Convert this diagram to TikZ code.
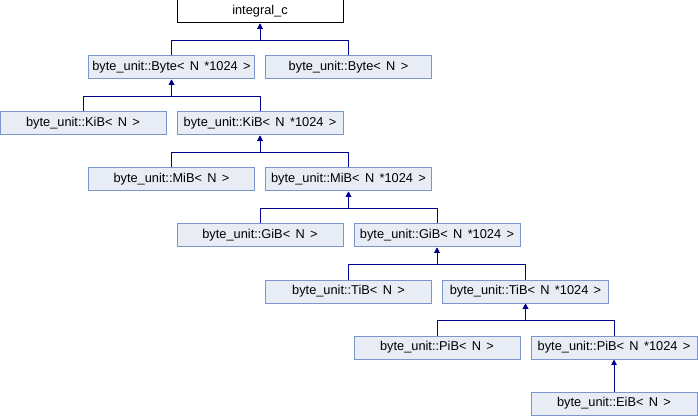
\documentclass[tikz,border=0pt]{standalone}
\usepackage{fontspec}
\setmainfont[WordSpace=1.5]{Liberation Sans}
\usetikzlibrary{arrows.meta}
\begin{document}
\begin{tikzpicture}[x=0.75pt,y=0.75pt,yscale=-1,xscale=1,
  cls/.style={draw={rgb,255:red,122;green,150;blue,204},fill={rgb,255:red,232;green,236;blue,245},line width=0.75pt,minimum width=124.5pt,minimum height=17.25pt,inner sep=0pt,font=\fontsize{9.6}{11}\selectfont},
  top/.style={cls,draw=black,fill=white},
  inh/.style={{Triangle[length=4pt,width=4pt]}-,draw={rgb,255:red,0;green,0;blue,140},line width=0.75pt}]
\useasboundingbox (0,0) rectangle (698,416);

%Shape: Rectangle [id:base]
\node [top] (integral) at (260,11.5) {integral\_c};
% Text Node
\node [cls] (byteK) at (171.5,67.5) {byte\_unit::Byte< N *1024 >};
\node [cls] (byteN) at (348.5,67.5) {byte\_unit::Byte< N >};
% Text Node
\node [cls] (kibN) at (83,123.5) {byte\_unit::KiB< N >};
\node [cls] (kibK) at (260,123.5) {byte\_unit::KiB< N *1024 >};
% Text Node
\node [cls] (mibN) at (171.5,179.5) {byte\_unit::MiB< N >};
\node [cls] (mibK) at (348.5,179.5) {byte\_unit::MiB< N *1024 >};
% Text Node
\node [cls] (gibN) at (260,235.5) {byte\_unit::GiB< N >};
\node [cls] (gibK) at (437,235.5) {byte\_unit::GiB< N *1024 >};
% Text Node
\node [cls] (tibN) at (348.5,291.5) {byte\_unit::TiB< N >};
\node [cls] (tibK) at (525.5,291.5) {byte\_unit::TiB< N *1024 >};
% Text Node
\node [cls] (pibN) at (437,347.5) {byte\_unit::PiB< N >};
\node [cls] (pibK) at (614,347.5) {byte\_unit::PiB< N *1024 >};
% Text Node
\node [cls] (eibN) at (614,403.5) {byte\_unit::EiB< N >};

% Connectors
\draw [inh] (integral.south) -- ++(0,17) -| (byteK.north);
\draw [inh] (integral.south) -- ++(0,17) -| (byteN.north);
\draw [inh] (byteK.south) -- ++(0,17) -| (kibN.north);
\draw [inh] (byteK.south) -- ++(0,17) -| (kibK.north);
\draw [inh] (kibK.south) -- ++(0,17) -| (mibN.north);
\draw [inh] (kibK.south) -- ++(0,17) -| (mibK.north);
\draw [inh] (mibK.south) -- ++(0,17) -| (gibN.north);
\draw [inh] (mibK.south) -- ++(0,17) -| (gibK.north);
\draw [inh] (gibK.south) -- ++(0,17) -| (tibN.north);
\draw [inh] (gibK.south) -- ++(0,17) -| (tibK.north);
\draw [inh] (tibK.south) -- ++(0,17) -| (pibN.north);
\draw [inh] (tibK.south) -- ++(0,17) -| (pibK.north);
\draw [inh] (pibK.south) -- (eibN.north);

\end{tikzpicture}
\end{document}
